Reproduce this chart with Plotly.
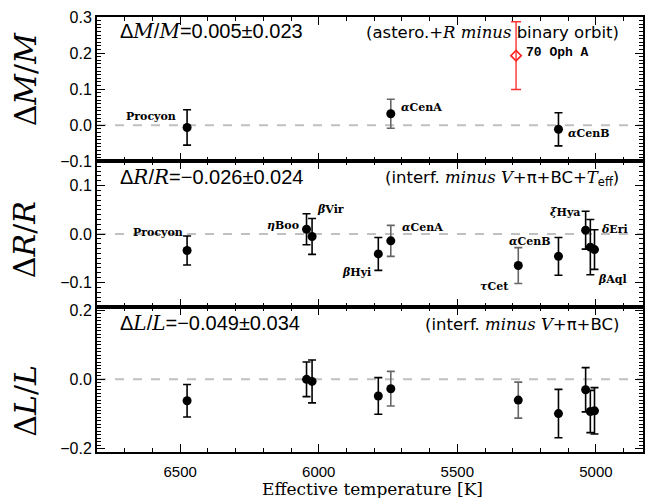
import plotly.graph_objects as go

# ---------------- data ----------------
# Top panel: Delta M / M
m_names = ["Procyon", "αCenA", "αCenB"]
m_teff = [6475, 5740, 5135]
m_val = [-0.006, 0.032, -0.011]
m_err = [0.049, 0.040, 0.046]
m_color = ["black", "#666666", "black"]
oph_teff = [5288]
oph_val = [0.193]
oph_err = [0.094]

# Middle panel: Delta R / R
r_names = ["Procyon", "ηBoo", "βVir", "βHyi", "αCenA", "τCet", "αCenB", "ξHya", "δEri", "βAql"]
r_teff = [6475, 6044, 6024, 5785, 5740, 5280, 5135, 5037, 5020, 5005]
r_val = [-0.034, 0.010, -0.005, -0.041, -0.014, -0.065, -0.046, 0.008, -0.027, -0.032]
r_err = [0.030, 0.032, 0.037, 0.034, 0.032, 0.037, 0.039, 0.039, 0.057, 0.041]
r_color = ["black", "black", "black", "black", "#666666", "#666666", "black", "black", "black", "black"]

# Bottom panel: Delta L / L
l_teff = [6475, 6044, 6024, 5785, 5740, 5280, 5135, 5037, 5020, 5005]
l_val = [-0.062, 0.000, -0.006, -0.048, -0.027, -0.060, -0.099, -0.030, -0.093, -0.091]
l_err = [0.047, 0.050, 0.062, 0.053, 0.050, 0.052, 0.070, 0.064, 0.061, 0.067]
l_color = r_color

x_ticks = [6500, 6000, 5500, 5000]

SERIF = "DejaVu Serif"
SANS = "Liberation Sans"

fig = go.Figure()


def add_points(teff, val, err, colors, xa, ya):
    groups = {}
    for t, v, e, c in zip(teff, val, err, colors):
        groups.setdefault(c, []).append((t, v, e))
    for c, pts in groups.items():
        fig.add_trace(go.Scatter(
            x=[p[0] for p in pts], y=[p[1] for p in pts],
            error_y=dict(type="data", array=[p[2] for p in pts], color=c,
                         thickness=1.6, width=4),
            mode="markers", marker=dict(color="black", size=9),
            xaxis=xa, yaxis=ya, showlegend=False, hoverinfo="skip"))


add_points(m_teff, m_val, m_err, m_color, "x", "y")
fig.add_trace(go.Scatter(
    x=oph_teff, y=oph_val,
    error_y=dict(type="data", array=oph_err, color="#ff3030", thickness=1.4, width=5),
    mode="markers", marker=dict(symbol="diamond-open", color="#ff2020", size=8,
                                line=dict(width=1.6)),
    xaxis="x", yaxis="y", showlegend=False, hoverinfo="skip"))
add_points(r_teff, r_val, r_err, r_color, "x2", "y2")
add_points(l_teff, l_val, l_err, l_color, "x3", "y3")

domains = [[0.668, 1.0], [0.334, 0.668], [0.0, 0.334]]
yranges = [[-0.1, 0.3], [-0.15, 0.15], [-0.21, 0.21]]

axis_common = dict(showline=True, linecolor="black", linewidth=2, mirror="allticks",
                   ticks="inside", ticklen=8, tickwidth=1, tickcolor="black",
                   showgrid=False, zeroline=False,
                   tickfont=dict(family=SANS, size=16, color="black"))

for i in range(3):
    sx = "" if i == 0 else str(i + 1)
    xa = dict(axis_common, range=[6800, 4830], tickvals=x_ticks,
              anchor="y" + sx, domain=[0, 1],
              showticklabels=(i == 2), ticktext=[str(t) for t in x_ticks],
              ticklabelstandoff=5,
              minor=dict(dtick=100, ticklen=4, ticks="inside", tickcolor="black"))
    if i > 0:
        xa["matches"] = "x"
    fig.layout["xaxis" + sx] = xa
fig.layout.xaxis3.tickfont = dict(family=SANS, size=15, color="black")

fig.layout.yaxis = dict(axis_common, domain=domains[0], range=yranges[0], anchor="x",
                        tickvals=[-0.1, 0.0, 0.1, 0.2, 0.3],
                        ticktext=["−0.1", "0.0", "0.1", "0.2", "0.3"],
                        minor=dict(dtick=0.01, ticklen=4, ticks="inside", tickcolor="black"))
fig.layout.yaxis2 = dict(axis_common, domain=domains[1], range=yranges[1], anchor="x2",
                         tickvals=[-0.1, 0.0, 0.1],
                         ticktext=["−0.1", "0.0", "0.1"],
                         minor=dict(dtick=0.01, ticklen=4, ticks="inside", tickcolor="black"))
fig.layout.yaxis3 = dict(axis_common, domain=domains[2], range=yranges[2], anchor="x3",
                         tickvals=[-0.2, 0.0, 0.2],
                         ticktext=["−0.2", "0.0", "0.2"],
                         minor=dict(dtick=0.01, ticklen=4, ticks="inside", tickcolor="black"))
# medium-length unlabeled ticks (overlay axes)
fig.layout.yaxis4 = dict(overlaying="y2", anchor="x2", range=yranges[1], showline=False,
                         showgrid=False, zeroline=False, ticks="inside", ticklen=7,
                         tickcolor="black", tickvals=[-0.15, -0.05, 0.05, 0.15],
                         showticklabels=False, mirror="allticks")
fig.layout.yaxis5 = dict(overlaying="y3", anchor="x3", range=yranges[2], showline=False,
                         showgrid=False, zeroline=False, ticks="inside", ticklen=7,
                         tickcolor="black", tickvals=[-0.1, 0.1],
                         showticklabels=False, mirror="allticks")

# dashed zero lines
for sx in ["", "2", "3"]:
    fig.add_shape(type="line", xref=f"x{sx} domain", yref=f"y{sx}", x0=0, x1=1, y0=0, y1=0,
                  line=dict(color="#c0c0c0", width=2, dash="dash"), layer="below")

ann = []


def lab(text, x, y, xa, ya, xs, ys, anchor, font=SERIF, size=11):
    ann.append(dict(text=text, x=x, y=y, xref=xa, yref=ya, xshift=xs, yshift=ys,
                    xanchor=anchor, yanchor="middle", showarrow=False,
                    font=dict(family=font, size=size, color="black")))


def B(s):
    return "<b>" + s + "</b>"


# top labels
lab(B("Procyon"), m_teff[0], m_val[0], "x", "y", -9, 11, "right")
lab(B("<i>α</i>CenA"), m_teff[1], m_val[1], "x", "y", 8, 6, "left")
lab(B("<i>α</i>CenB"), m_teff[2], m_val[2], "x", "y", 8, -4, "left")
lab(B("70 Oph A"), oph_teff[0], oph_val[0], "x", "y", 8, 3, "left", font="Liberation Mono", size=13)

# middle labels
r_off = [(-2, 18, "right"), (-6, 4, "right"), (3, 27, "left"), (-5, -19, "right"),
         (9, 13, "left"), (-7, -21, "right"), (-5, 15, "right"), (-4, 18, "right"),
         (9, 18, "left"), (1, -30, "left")]
for n, t, v, (xs, ys, an) in zip(r_names, r_teff, r_val, r_off):
    txt = n if n == "Procyon" else "<i>" + n[0] + "</i>" + n[1:]
    lab(B(txt), t, v, "x2", "y2", xs, ys, an)


def serif_i(s):
    return f'<span style="font-family:{SERIF}"><i>{s}</i></span>'


# panel statements
stat = [("Δ" + serif_i("M") + "/" + serif_i("M") + "=0.005±0.023", "y domain", 0.90,
         "(astero.+" + serif_i("R") + " " + serif_i("minus") + " binary orbit)"),
        ("Δ" + serif_i("R") + "/" + serif_i("R") + "=−0.026±0.024", "y2 domain", 0.89,
         "(interf. " + serif_i("minus") + " " + serif_i("V") + "+π+BC+" + serif_i("T") + "<sub>eff</sub>)"),
        ("Δ" + serif_i("L") + "/" + serif_i("L") + "=−0.049±0.034", "y3 domain", 0.89,
         "(interf. " + serif_i("minus") + " " + serif_i("V") + "+π+BC)")]
for left, yr, yy, right in stat:
    ann.append(dict(text=left, x=0.038, y=yy, xref="x domain", yref=yr, xanchor="left",
                    yanchor="middle", showarrow=False,
                    font=dict(family=SANS, size=20, color="black")))
    ann.append(dict(text=right, x=0.96, y=yy - 0.01, xref="x domain", yref=yr, xanchor="right",
                    yanchor="middle", showarrow=False,
                    font=dict(family="DejaVu Sans", size=16.5, color="black")))

# y titles
ytitles = [("Δ<i>M</i>/<i>M</i>", "y domain", 0.57), ("Δ<i>R</i>/<i>R</i>", "y2 domain", 0.46),
           ("Δ<i>L</i>/<i>L</i>", "y3 domain", 0.355)]
for t, yr, yy in ytitles:
    ann.append(dict(text=t, x=(25 - 97) / 548.0, y=yy, xref="paper", yref=yr, textangle=-90,
                    xanchor="center", yanchor="middle", showarrow=False,
                    font=dict(family=SERIF, size=30, color="black")))

# x title
ann.append(dict(text="Effective temperature [K]", x=0.505, y=(452 - 489) / 440.0,
                xref="paper", yref="paper", xanchor="center", yanchor="middle",
                showarrow=False, font=dict(family=SERIF, size=17, color="black")))

fig.update_layout(annotations=ann, width=654, height=498,
                  margin=dict(l=97, r=9, t=12, b=46),
                  plot_bgcolor="white", paper_bgcolor="white", showlegend=False)

fig.write_html("out.html", config={"displayModeBar": False},
               post_script="document.body.style.margin='0';document.body.style.overflow='hidden';")
